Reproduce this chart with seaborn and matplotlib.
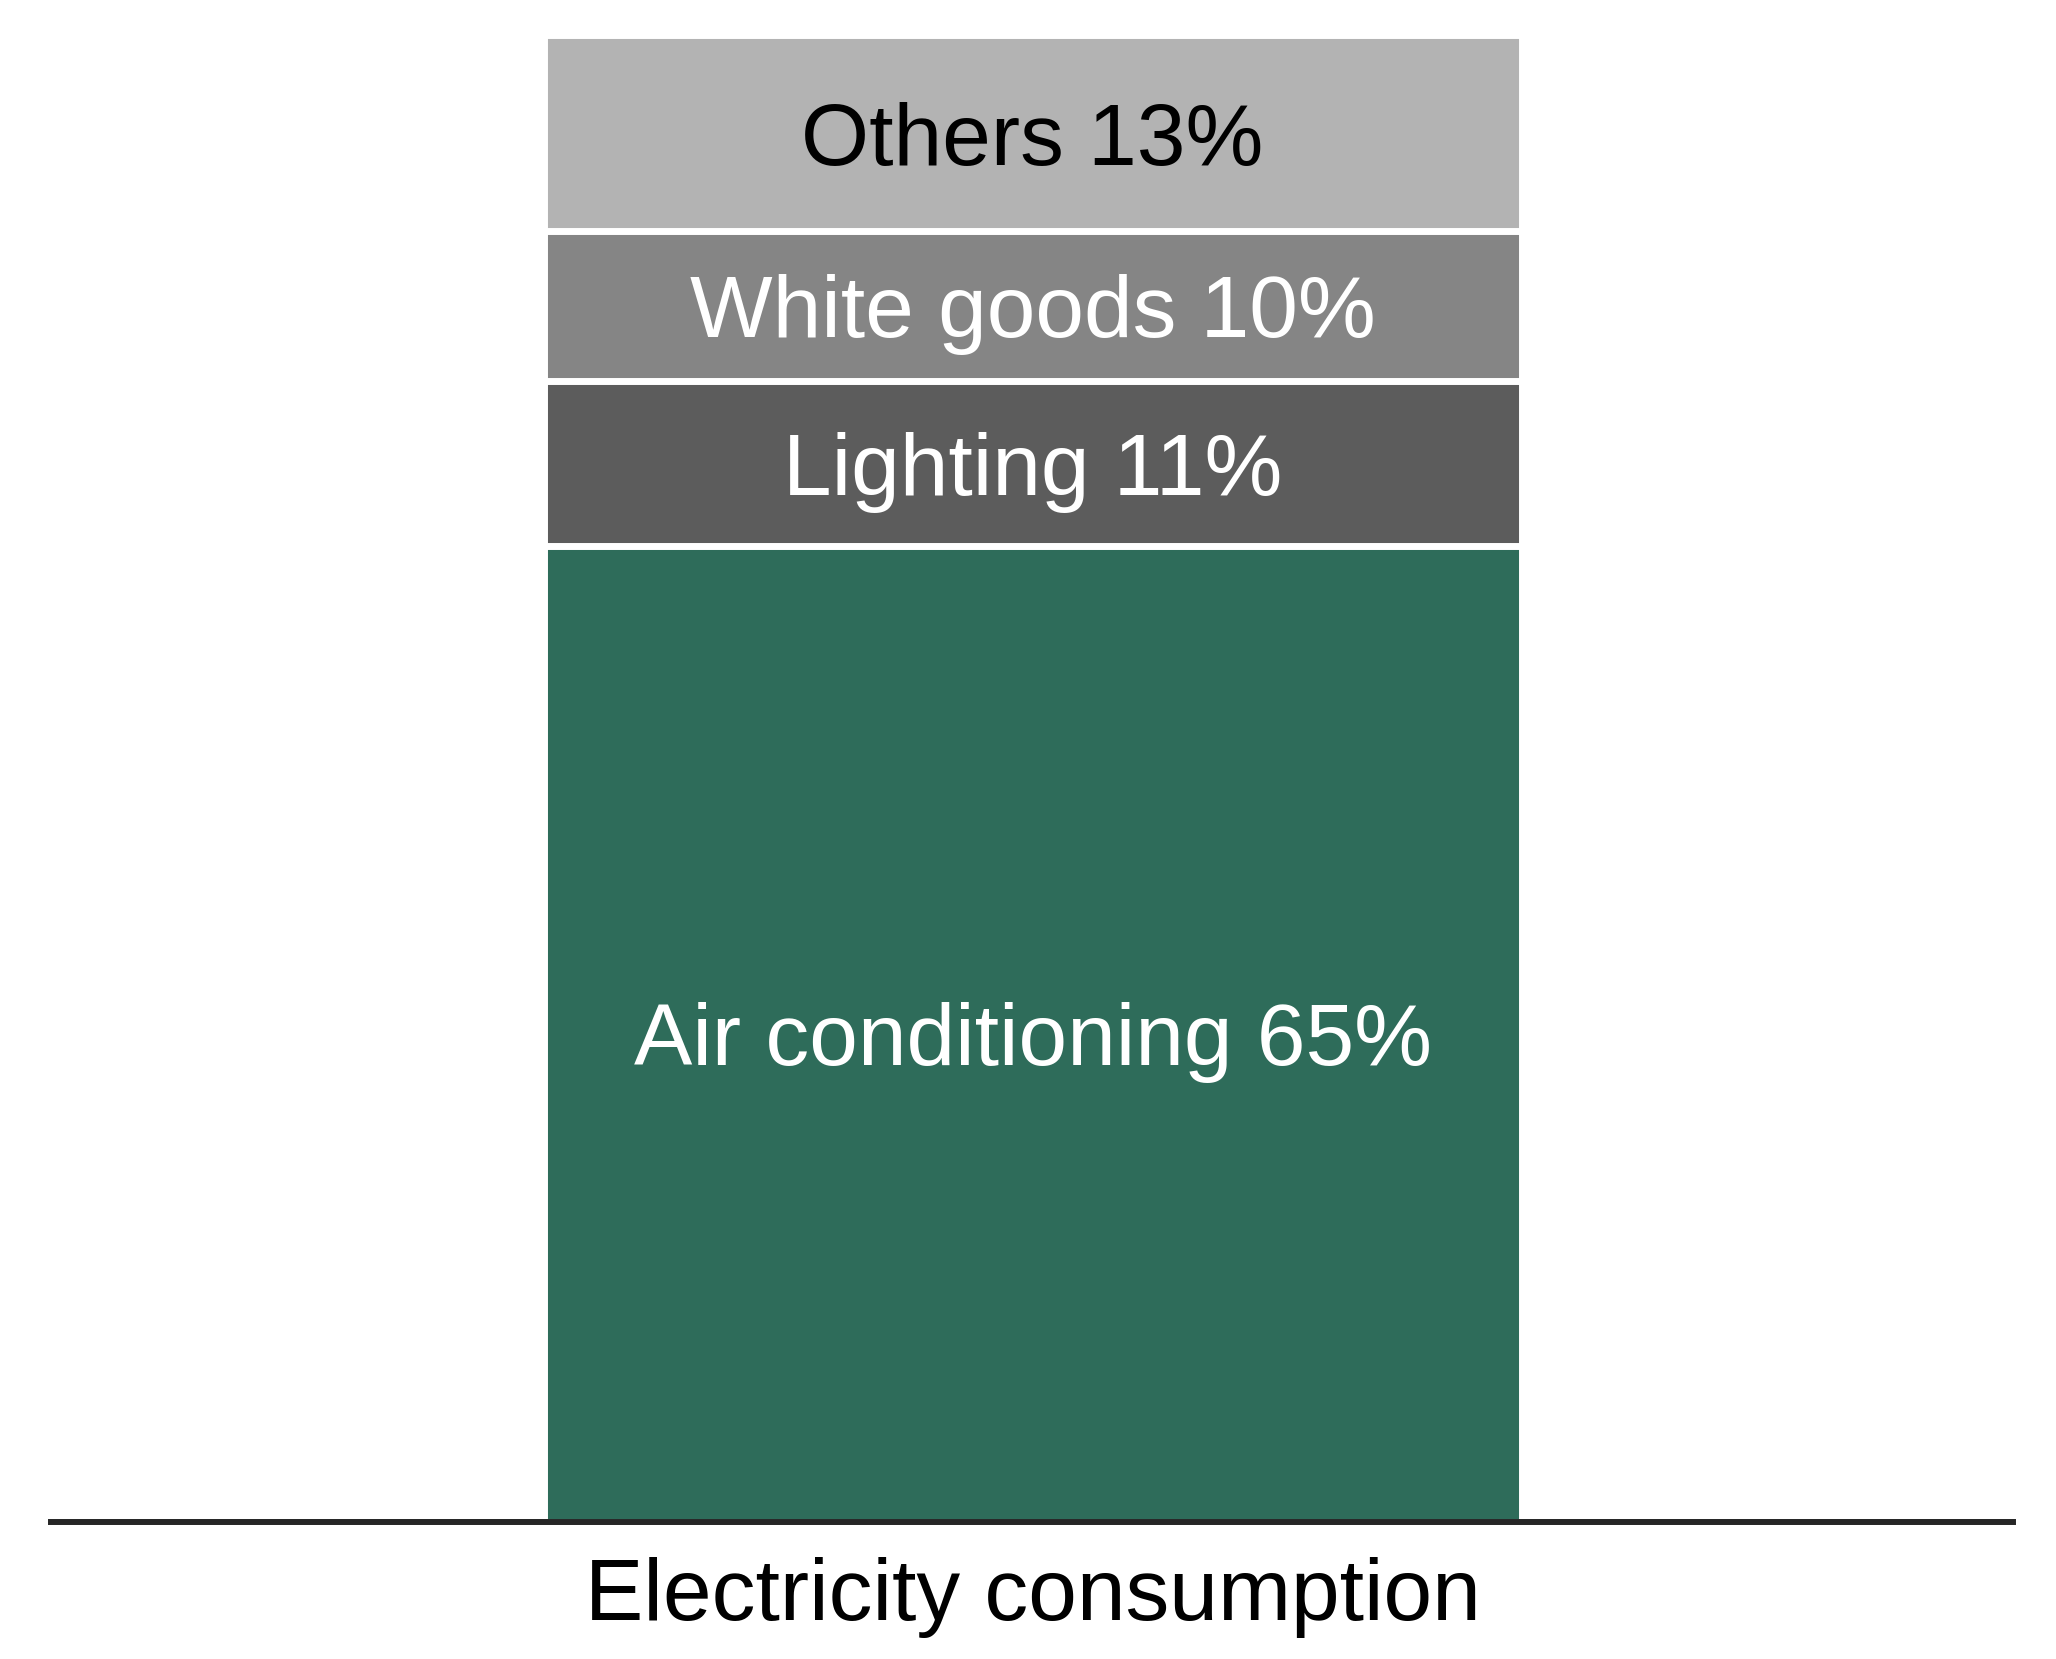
import numpy as np
import matplotlib
matplotlib.use("Agg")
import matplotlib.pyplot as plt
import seaborn as sns

# shares of household electricity use (%), bottom to top
segments = ["Air conditioning", "Lighting", "White goods", "Others"]
shares = [65, 11, 10, 13]
seg_colors = ["#2e6c5a", "#5c5c5c", "#858585", "#b3b3b3"]
text_colors = ["white", "white", "white", "black"]
bar_label = "Electricity consumption"

sns.set_theme(style="white")
plt.rcParams["font.family"] = ["Liberation Sans", "DejaVu Sans"]

fig = plt.figure(figsize=(20.56, 16.59), dpi=100)
ax = fig.add_axes([0.0248, 0.0826, 0.9543, 0.9051])

# stacked bar: draw cumulative totals from tallest to shortest
tops = np.cumsum(shares)
for top, col in zip(tops[::-1], seg_colors[::-1]):
    sns.barplot(x=[bar_label], y=[top], color=col, saturation=1,
                width=0.8, edgecolor="white", linewidth=5,
                errorbar=None, ax=ax)

bottoms = tops - np.array(shares)
for name, s, b, tc in zip(segments, shares, bottoms, text_colors):
    ax.text(0, b + s / 2, f"{name} {s}%", ha="center", va="center_baseline",
            color=tc, fontsize=63)

ax.set_xlim(-0.8029, 0.8020)
ax.set_ylim(0, 100)
ax.set_yticks([])
ax.set_ylabel("")
ax.set_xlabel("")
for side in ["left", "right", "top"]:
    ax.spines[side].set_visible(False)
ax.spines["bottom"].set_linewidth(4.3)
ax.spines["bottom"].set_color("#262626")
ax.spines["bottom"].set_zorder(5)
ax.tick_params(axis="x", length=0, pad=25, labelsize=63, labelcolor="black")

plt.savefig("out.png", dpi=100)
plt.close()
